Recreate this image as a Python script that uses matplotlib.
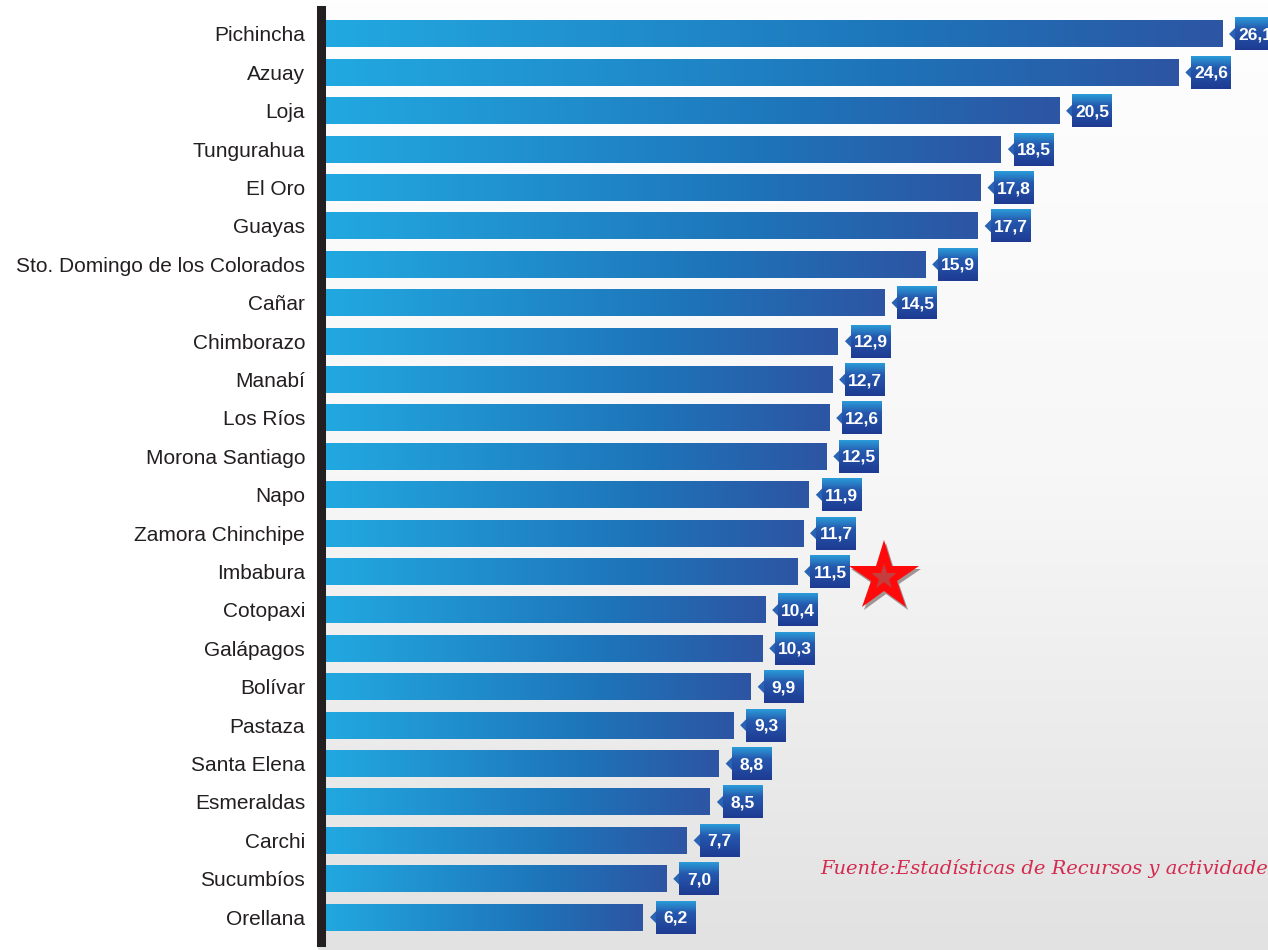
import numpy as np
import matplotlib
matplotlib.use('Agg')
import matplotlib.pyplot as plt
from matplotlib.colors import LinearSegmentedColormap
from matplotlib.patches import Polygon
from matplotlib.transforms import Affine2D, ScaledTranslation

provincias = ['Pichincha', 'Azuay', 'Loja', 'Tungurahua', 'El Oro', 'Guayas',
              'Sto. Domingo de los Colorados', 'Cañar', 'Chimborazo', 'Manabí',
              'Los Ríos', 'Morona Santiago', 'Napo', 'Zamora Chinchipe',
              'Imbabura', 'Cotopaxi', 'Galápagos', 'Bolívar', 'Pastaza',
              'Santa Elena', 'Esmeraldas', 'Carchi', 'Sucumbíos', 'Orellana']
valores = [26.1, 24.6, 20.5, 18.5, 17.8, 17.7, 15.9, 14.5, 12.9, 12.7,
           12.6, 12.5, 11.9, 11.7, 11.5, 10.4, 10.3, 9.9, 9.3, 8.8,
           8.5, 7.7, 7.0, 6.2]
etiquetas = [f'{v:.1f}'.replace('.', ',') for v in valores]
destacada = 'Imbabura'
fuente = 'Fuente:Estadísticas de Recursos y actividades de Salud'

W, H = 1268, 950
fig = plt.figure(figsize=(W / 100, H / 100), dpi=100)
fig.patch.set_facecolor('white')

# fondo gris degradado (solo zona del grafico)
bg = fig.add_axes([318 / W, 0, 1 - 318 / W, 1], zorder=0)
grad = np.linspace(0, 1, 256).reshape(-1, 1)
bg_cmap = LinearSegmentedColormap.from_list('bg', ['#fefefe', '#f7f7f7', '#e2e2e3'])
bg.imshow(grad, cmap=bg_cmap, aspect='auto', extent=[0, 1, 0, 1], origin='upper')
bg.axis('off')

ax = fig.add_axes([321 / W, 1 - 942 / H, 1 - 321 / W, (942 - 10) / H], zorder=1)
ax.patch.set_alpha(0)

x0, x1 = -4.866, 27.68
n = len(valores)
y = np.arange(n)

bar_cmap = LinearSegmentedColormap.from_list(
    'barra', [(0, '#22a9e1'), (0.65, '#1e74b9'), (1, '#2d55a3')])
tag_cmap = LinearSegmentedColormap.from_list(
    'tag', [(0, '#2b9bd9'), (0.35, '#2559ae'), (1, '#1e3a92')])
fila = np.linspace(0, 1, 256).reshape(1, -1)
col = np.linspace(1, 0, 64).reshape(-1, 1)

for yi, v, lab in zip(y, valores, etiquetas):
    ax.imshow(fila, cmap=bar_cmap, extent=(x0, v, yi + 0.35, yi - 0.35),
              aspect='auto', interpolation='bilinear', zorder=2)
    # etiqueta tipo "tag" al final de la barra (offsets en pixeles)
    tr = Affine2D() + ScaledTranslation(v, yi, ax.transData)
    ax.add_patch(Polygon([(7, 0), (14, 7), (14, -7)], closed=True,
                         facecolor='#2a63b3', edgecolor='none',
                         transform=tr, zorder=3, clip_on=False))
    im = ax.imshow(col, cmap=tag_cmap, extent=(13, 53, -16.5, 16.5),
                   aspect='auto', interpolation='bilinear', zorder=3,
                   origin='lower')
    im.set_transform(tr)
    im.set_clip_on(False)
    ax.text(33, -1, lab, transform=tr, ha='center', va='center',
            color='white', fontsize=12.5, fontweight='bold',
            family='Liberation Sans', zorder=4)

# estrella sobre la provincia destacada
k = provincias.index(destacada)
sh = ax.transData + ScaledTranslation(0.867 + 0.025, -0.05 - 0.035, fig.dpi_scale_trans)
st = ax.transData + ScaledTranslation(0.867, -0.05, fig.dpi_scale_trans)
ax.plot(valores[k], y[k], marker='*', ms=53, mew=0, color='#a09494',
        transform=sh, zorder=5, clip_on=False)
ax.plot(valores[k], y[k], marker='*', ms=53, mew=0, color='#ff0a0a',
        transform=st, zorder=6, clip_on=False)
ax.plot(valores[k], y[k], marker='*', ms=19, mew=0, color='#b84a4a',
        alpha=0.8, transform=st, zorder=7, clip_on=False)

ax.set_xlim(x0, x1)
ax.set_ylim(n - 1 + 0.646, -0.625)
ax.set_xticks([])
ax.set_yticks(y)
ax.set_yticklabels(provincias, family='Liberation Sans',
                   fontsize=15, color='#231f20')
ax.tick_params(axis='y', length=0, pad=11.5)
for s in ['top', 'right', 'bottom']:
    ax.spines[s].set_visible(False)
ax.spines['left'].set_linewidth(6.5)
ax.spines['left'].set_color('#231f20')
ax.spines['left'].set_zorder(8)

fig.text(820 / W, 1 - 868 / H, fuente, ha='left', va='center',
         style='italic', family='DejaVu Serif', fontsize=14, color='#d42a4e')

fig.savefig('out.png', dpi=100)
